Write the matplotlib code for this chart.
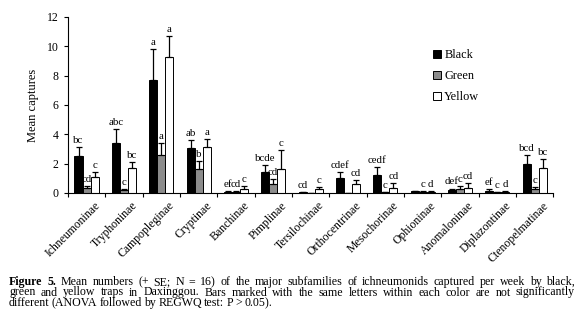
import numpy as np
import matplotlib
matplotlib.use("Agg")
import matplotlib.pyplot as plt

plt.rcParams['font.family'] = ['Liberation Serif', 'DejaVu Serif']

# Données
subfamilies = ['Ichneumoninae', 'Tryphoninae', 'Campopleginae', 'Cryptinae',
               'Banchinae', 'Pimplinae', 'Tersilochinae', 'Orthocentrinae',
               'Mesochorinae', 'Ophioninae', 'Anomaloninae', 'Diplazontinae',
               'Ctenopelmatinae']
black_mean = [2.5, 3.4, 7.7, 3.05, 0.08, 1.45, 0.05, 1.0, 1.25, 0.1, 0.2, 0.15, 2.0]
black_se = [0.6, 0.95, 2.1, 0.55, 0.03, 0.45, 0.03, 0.4, 0.5, 0.03, 0.1, 0.1, 0.6]
green_mean = [0.35, 0.2, 2.6, 1.6, 0.08, 0.6, 0.0, 0.0, 0.05, 0.05, 0.3, 0.05, 0.3]
green_se = [0.1, 0.05, 0.8, 0.55, 0.03, 0.35, 0.0, 0.0, 0.02, 0.05, 0.15, 0.02, 0.1]
yellow_mean = [1.1, 1.7, 9.3, 3.1, 0.3, 1.6, 0.25, 0.6, 0.35, 0.06, 0.35, 0.05, 1.7]
yellow_se = [0.35, 0.4, 1.4, 0.55, 0.15, 1.3, 0.15, 0.25, 0.35, 0.09, 0.3, 0.1, 0.6]

black_lbl = ['bc', 'abc', 'a', 'ab', 'ef', 'bcde', 'cd', 'cdef', 'cedf', '', 'def', 'ef', 'bcd']
green_lbl = ['cd', 'c', 'a', 'b', 'cd', 'cd', '', '', 'c', 'c', 'c', 'c', 'c']
yellow_lbl = ['c', 'bc', 'a', 'a', 'c', 'c', 'c', 'cd', 'cd', 'd', 'cd', 'd', 'bc']

caption_lines = [
    "Mean numbers (+ SE; N = 16) of the major subfamilies of ichneumonids captured per week by black,",
    "green and yellow traps in Daxinggou. Bars marked with the same letters within each color are not significantly",
    "different (ANOVA followed by REGWQ test: P > 0.05).",
]

fig = plt.figure(figsize=(5.8, 3.2), dpi=100)
ax = fig.add_axes([0.117, 0.397, 0.837, 0.55])

x = np.arange(len(subfamilies)) + 0.5
w = 0.215
series = [
    (black_mean, black_se, black_lbl, 'black', 'Black', -w),
    (green_mean, green_se, green_lbl, '#8c8c8c', 'Green', 0),
    (yellow_mean, yellow_se, yellow_lbl, 'white', 'Yellow', w),
]
for mean, se, lbl, col, name, off in series:
    ax.bar(x + off, mean, w, color=col, edgecolor='black', linewidth=0.7, label=name)
    ax.errorbar(x + off, mean, yerr=[np.zeros(len(se)), se], fmt='none',
                ecolor='black', elinewidth=0.9, capsize=2.5, capthick=0.9)
    for xi, m, s, t in zip(x + off, mean, se, lbl):
        if t:
            ax.annotate(t, (xi, m + s), xytext=(0, 1.5), textcoords='offset points',
                        ha='center', va='bottom', fontsize=7.8)

ax.set_xlim(0, len(subfamilies))
ax.set_ylim(0, 12)
ax.set_yticks(range(0, 13, 2))
ax.set_xticks(np.arange(len(subfamilies) + 1))
ax.set_xticklabels([])
ax.tick_params(axis='x', length=3, width=0.8, direction='out')
ax.tick_params(axis='y', length=3, width=0.8, direction='out', labelsize=8.5)
for xi, name in zip(x, subfamilies):
    ax.text(xi + 0.2, -0.45, name, rotation=45, rotation_mode='anchor',
            ha='right', va='top', fontsize=8.5)
ax.spines['top'].set_visible(False)
ax.spines['right'].set_visible(False)
ax.spines['left'].set_linewidth(0.8)
ax.spines['bottom'].set_linewidth(0.8)
ax.set_ylabel('Mean captures', fontsize=9, labelpad=6)

ax.legend(loc='upper left', bbox_to_anchor=(0.73, 0.88), frameon=False, fontsize=8.8,
          handlelength=0.6, handleheight=0.6, handletextpad=0.3, labelspacing=0.75)

# Légende de figure, justifiée ligne par ligne
fig.canvas.draw()
renderer = fig.canvas.get_renderer()
x0, x1 = 9 / 580, 575 / 580
ys = [1 - 282 / 320, 1 - 292.5 / 320, 1 - 303 / 320]
for i, (line, y) in enumerate(zip(caption_lines, ys)):
    words = line.split(' ')
    items = []
    if i == 0:
        items += [('Figure', 'bold'), ('5.', 'bold')]
    items += [(wd, 'normal') for wd in words]
    texts = [fig.text(0, y, wd, fontsize=8.6, weight=wt, va='center', ha='left')
             for wd, wt in items]
    widths = [t.get_window_extent(renderer).width / fig.bbox.width for t in texts]
    if i < len(caption_lines) - 1:
        gap = (x1 - x0 - sum(widths)) / (len(texts) - 1)
    else:
        gap = 2.2 / 580
    pos = x0
    for t, wdt in zip(texts, widths):
        t.set_x(pos)
        pos += wdt + gap

fig.savefig('out.png', dpi=100)
